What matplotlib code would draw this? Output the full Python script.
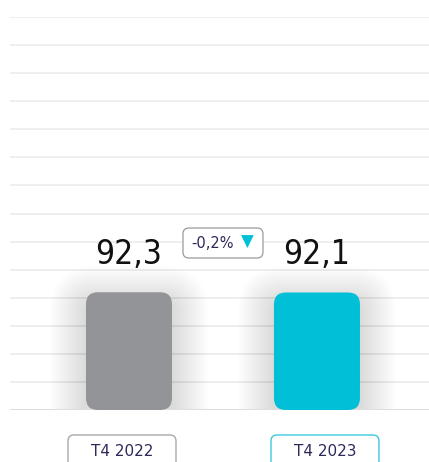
import matplotlib.pyplot as plt
import numpy as np
from matplotlib.patches import FancyBboxPatch

periods = ['T4 2022', 'T4 2023']
values = [92.3, 92.1]
value_labels = ['92,3', '92,1']
change_label = '-0,2%'
bar_colors = ['#939498', '#00bfd6']
box_edges = ['#a8a8ac', '#3cc8dc']

fig = plt.figure(figsize=(4.29, 4.62), dpi=100)
# axes spans pixel x 10..429, y 17..410 (from top)
ax = fig.add_axes([10 / 429, (462 - 410) / 462, 419 / 429, 393 / 462])
ax.set_xlim(-0.633, 1.596)
ax.set_ylim(0, 308)
ax.axis('off')

# px per unit, used to keep corners round
px_x = 188.0
px_y = 393 / 308
aspect = px_x / px_y

# grid
for yv in np.arange(22, 309, 22):
    ax.axhline(yv, color='#ebebeb', lw=1.2, zorder=0)
ax.axhline(0, color='#dedede', lw=2.2, zorder=3)

x = np.arange(len(periods))
width = 86 / px_x
bars = ax.bar(x, values, width=width, alpha=0)

for b, col in zip(bars, bar_colors):
    x0, w, h = b.get_x(), b.get_width(), b.get_height()
    # soft shadow
    for i in range(18):
        pad = (2 + i * 2.0) / px_x
        sh = FancyBboxPatch((x0, -8), w, h, boxstyle=f'round,pad={pad},rounding_size={(12 + i * 2.0) / px_x}',
                            mutation_aspect=aspect, fc='#000000', ec='none', alpha=0.009, zorder=1)
        ax.add_patch(sh)
    p = FancyBboxPatch((x0, 0), w, h, boxstyle=f'round,pad=0,rounding_size={12 / px_x}',
                       mutation_aspect=aspect, fc=col, ec='none', zorder=4)
    ax.add_patch(p)

# value labels
for xi, v, lab in zip(x, values, value_labels):
    ax.text(xi, v + 38 / px_y, lab, ha='center', va='center', fontsize=24,
            family='DejaVu Sans', fontstretch='condensed', color='#111111', zorder=5)

# change badge
bx, by = 0.5, (410 - 243) / px_y
badge = FancyBboxPatch((bx - 40 / px_x, by - 15 / px_y), 80 / px_x, 30 / px_y,
                       boxstyle=f'round,pad=0,rounding_size={6 / px_x}', mutation_aspect=aspect,
                       fc='white', ec='#9a9a9a', lw=0.9, zorder=5)
ax.add_patch(badge)
ax.text(bx - 10 / px_x, by, change_label, ha='center', va='center', fontsize=10.5,
        family='DejaVu Sans', color='#2d2a5a', zorder=6)
ax.text(bx + 24 / px_x, by + 1 / px_y, '▼', ha='center', va='center', fontsize=12,
        family='DejaVu Sans', color='#00bfd6', zorder=6)

# category boxes
for xi, lab, ec, off in zip(x, periods, box_edges, [-7, 8]):
    cx = xi + off / px_x
    cb = FancyBboxPatch((cx - 54 / px_x, -70 / px_y), 108 / px_x, 45 / px_y,
                        boxstyle=f'round,pad=0,rounding_size={6 / px_x}', mutation_aspect=aspect,
                        fc='white', ec=ec, lw=1.0, zorder=5, clip_on=False)
    ax.add_patch(cb)
    ax.text(cx, -41 / px_y, lab, ha='center', va='center', fontsize=11,
            family='DejaVu Sans', color='#2d2a5a', zorder=6, clip_on=False)

fig.savefig('out.png', dpi=100)
